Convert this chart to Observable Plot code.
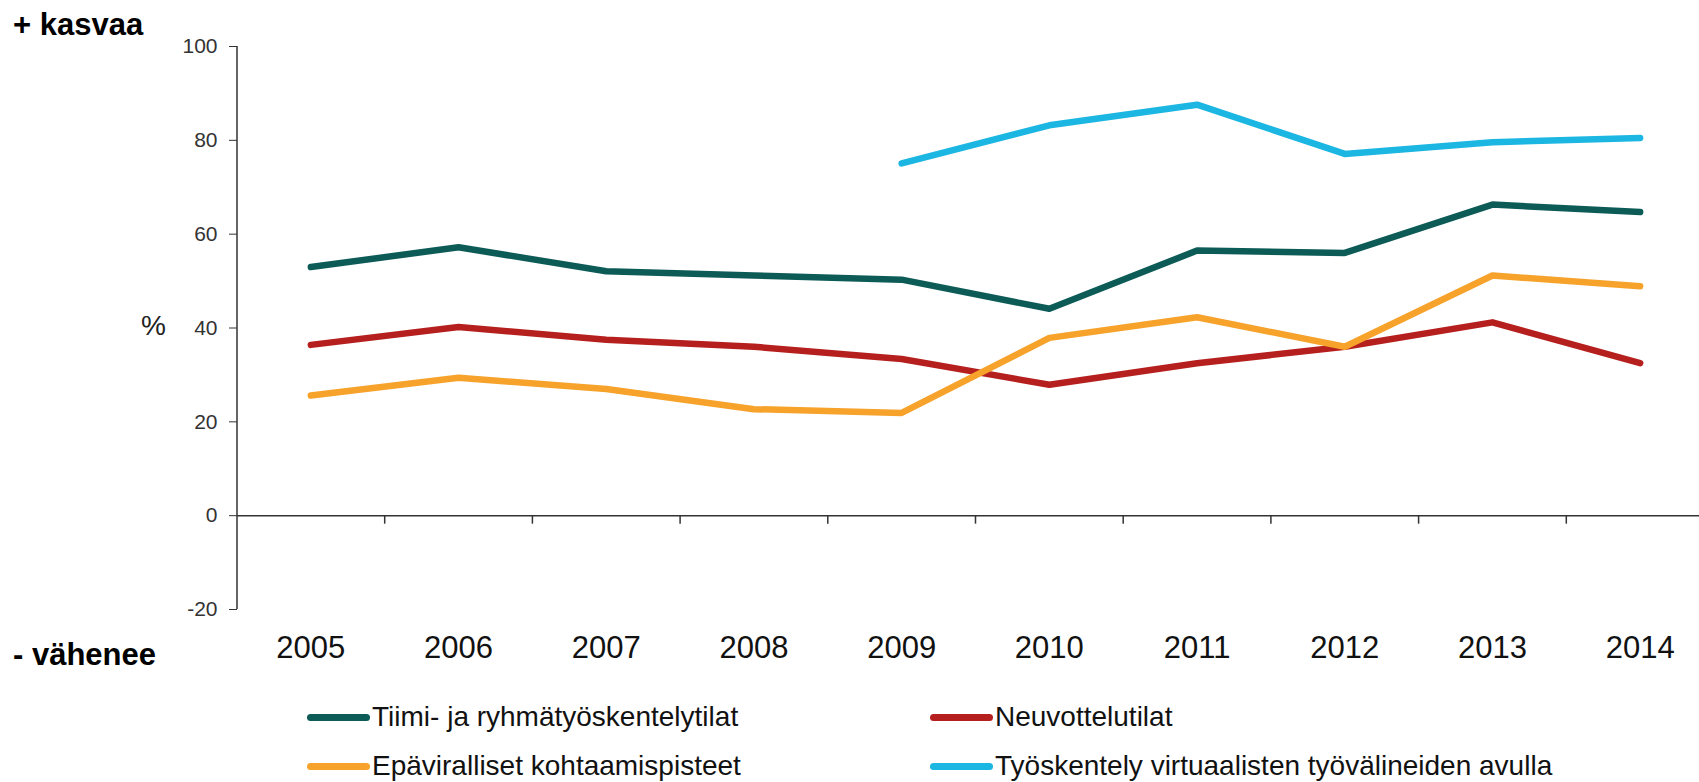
<!DOCTYPE html>
<html>
<head>
<meta charset="utf-8">
<script src="https://cdn.jsdelivr.net/npm/d3@7"></script>
<script src="https://cdn.jsdelivr.net/npm/@observablehq/plot@0.6"></script>
<style>
  html, body { margin: 0; padding: 0; background: #fff; }
  body { font-family: "Liberation Sans", Arial, sans-serif; color: #222; }
  #wrap { position: relative; width: 1699px; height: 782px; overflow: hidden; }
  #chart { position: absolute; left: 0; top: 0; }
  .side { position: absolute; font-weight: bold; font-size: 31px; color: #000; white-space: nowrap; line-height: 1; }
  .unit { position: absolute; font-size: 28px; color: #222; line-height: 1; }
  .legend-item { position: absolute; display: flex; align-items: center; font-size: 28px; color: #111; white-space: nowrap; line-height: 1; }
  .swatch { width: 63px; height: 7px; border-radius: 4px; margin-right: 2px; }
</style>
</head>
<body>
<div id="wrap">
  <div id="chart"></div>
  <div class="side" style="left:13px; top:9px;">+ kasvaa</div>
  <div class="side" style="left:13px; top:639px;">- vähenee</div>
  <div class="unit" style="left:141px; top:312px;">%</div>
  <div id="legend"></div>
</div>
<script>
// Years on the x axis
const years = [2005, 2006, 2007, 2008, 2009, 2010, 2011, 2012, 2013, 2014];

// Series names (legend order = drawing order)
const seriesNames = [
  "Tiimi- ja ryhmätyöskentelytilat",
  "Neuvottelutilat",
  "Epäviralliset kohtaamispisteet",
  "Työskentely virtuaalisten työvälineiden avulla"
];
const seriesColors = ["#0c5b57", "#b5201f", "#f6a22b", "#1bb6e1"];

// Share of respondents (%), one value per year; null = not asked that year
const tiimi       = [53.0, 57.2, 52.1, 51.2, 50.3, 44.1, 56.5, 56.0, 66.3, 64.7];
const neuvottelu  = [36.4, 40.2, 37.5, 36.0, 33.4, 27.9, 32.5, 36.0, 41.2, 32.5];
const epavirall   = [25.6, 29.4, 27.0, 22.7, 21.9, 37.9, 42.3, 36.0, 51.2, 48.9];
const virtuaali   = [null, null, null, null, 75.1, 83.2, 87.6, 77.1, 79.6, 80.5];

// Y axis tick values
const yTicks = [-20, 0, 20, 40, 60, 80, 100];

const seriesValues = [tiimi, neuvottelu, epavirall, virtuaali];
const rows = [];
seriesNames.forEach((name, s) => {
  years.forEach((year, i) => {
    const v = seriesValues[s][i];
    if (v != null) rows.push({series: name, year, value: v});
  });
});

// Category boundaries between years, where the small axis ticks sit
const boundaries = years.map(y => y + 0.5);

// A short downward tick drawn as a dot symbol
const downTick = {
  draw(context) {
    context.moveTo(0, 0);
    context.lineTo(0, 8);
  }
};

const chart = Plot.plot({
  width: 1699,
  height: 680,
  marginTop: 46,
  marginBottom: 71,
  marginLeft: 237,
  marginRight: 0,
  style: {fontFamily: "'Liberation Sans', Arial, sans-serif", background: "#fff", color: "#222"},
  x: {type: "linear", domain: [2004.5, 2014.5], range: [236.5, 1713.5]},
  y: {domain: [-20, 100]},
  color: {domain: seriesNames, range: seriesColors},
  marks: [
    Plot.axisY({
      ticks: yTicks, tickSize: 8, tickPadding: 12, fontSize: 21,
      tickFormat: d => String(d), label: null, stroke: "#333", fill: "#333"
    }),
    Plot.axisX({
      ticks: years, tickSize: 0, tickPadding: 26, fontSize: 31,
      tickFormat: d => String(d), label: null, fill: "#111"
    }),
    Plot.ruleX([2004.5], {y1: -20, y2: 100, stroke: "#333", strokeWidth: 1.5}),
    Plot.ruleY([0], {stroke: "#333", strokeWidth: 1.5}),
    Plot.dot(boundaries, {x: d => d, y: () => 0, symbol: downTick, stroke: "#333", strokeWidth: 1.5, fill: "none"}),
    Plot.line(rows, {
      x: "year", y: "value", z: "series", stroke: "series",
      strokeWidth: 6.5, strokeLinecap: "round", strokeLinejoin: "round"
    })
  ]
});
document.getElementById("chart").appendChild(chart);

// Legend: two columns, two rows
const legend = document.getElementById("legend");
const legendPos = [[307, 703], [930, 703], [307, 752], [930, 752]];
seriesNames.forEach((name, i) => {
  const item = document.createElement("div");
  item.className = "legend-item";
  item.style.left = legendPos[i][0] + "px";
  item.style.top = legendPos[i][1] + "px";
  const sw = document.createElement("div");
  sw.className = "swatch";
  sw.style.background = seriesColors[i];
  const label = document.createElement("span");
  label.textContent = name;
  item.appendChild(sw);
  item.appendChild(label);
  legend.appendChild(item);
});
</script>
</body>
</html>
